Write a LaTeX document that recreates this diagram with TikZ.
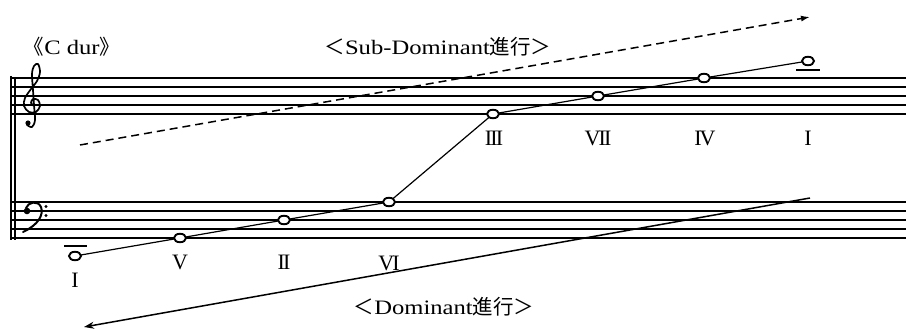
\documentclass[tikz,border=0pt]{standalone}
\usepackage{fontspec}
\setmainfont{Liberation Serif}
\newfontfamily\cjk{Noto Sans CJK JP}
\newfontfamily\wideserif[FakeStretch=1.2]{Liberation Serif}
\usetikzlibrary{arrows.meta,shapes.geometric}
\newcommand{\rmI}{I}
\newcommand{\rmII}{I\kern-1.8ptI}
\newcommand{\rmIII}{I\kern-1.8ptI\kern-1.8ptI}
\newcommand{\rmIV}{I\kern-2ptV}
\newcommand{\rmV}{V}
\newcommand{\rmVI}{V\kern-2ptI}
\newcommand{\rmVII}{V\kern-2ptI\kern-1.8ptI}
\begin{document}
\begin{tikzpicture}[x=1pt,y=-1pt,
  staffline/.style={line width=1.4pt},
  barline/.style={line width=1.3pt},
  ledger/.style={line width=1.4pt},
  clefstroke/.style={line width=1.7pt, line cap=round, line join=round},
  notehead/.style={draw, ellipse, line width=1.9pt, fill=white, minimum width=12pt, minimum height=8.5pt, inner sep=0pt},
  numeral/.style={font=\fontsize{22}{24}\selectfont, inner sep=0pt},
  heading/.style={font=\fontsize{20.5}{24}\selectfont, inner sep=0pt},
  melody/.style={line width=1.2pt},
  arrowline/.style={line width=1.5pt}]
\useasboundingbox (0,0) rectangle (906,329);
% staves
\foreach \y in {78,87,96,105,114} \draw[staffline] (12,\y) -- (906,\y);
\foreach \y in {202,211,220,229,238} \draw[staffline] (12,\y) -- (906,\y);
\draw[barline] (11,76) -- (11,240);
\draw[barline] (15,77) -- (15,240);
% treble clef (drawn)
\draw[clefstroke] plot[smooth, tension=0.55] coordinates {(34,106) (31,103) (33,99) (38,100) (40,106) (36,112) (29,112) (24,106) (25,98) (31,89) (37,81) (40,72) (38,64) (34,66) (32,74) (33,90) (34,105) (35,120) (32,127) (27,125)};
\fill (28,123) circle (2.6pt);
% bass clef (drawn)
\draw[clefstroke, line width=2pt] (26,208) .. controls (28,202) and (38,200) .. (41,207) .. controls (44,215) and (38,225) .. (23,232);
\fill (27,211) circle (3.3pt);
\fill (46,206.5) circle (1.6pt);
\fill (46,215.5) circle (1.6pt);
% ledger lines
\draw[ledger] (64,246) -- (87,246);
\draw[ledger] (796,70) -- (820,70);
% melody line
\coordinate (p1) at (75,256);
\coordinate (p2) at (180,238);
\coordinate (p3) at (284,220);
\coordinate (p4) at (389,202);
\coordinate (p5) at (493,114);
\coordinate (p6) at (598,96);
\coordinate (p7) at (704,78);
\coordinate (p8) at (808,61);
\draw[melody] (p1) -- (p2) -- (p3) -- (p4) -- (p5) -- (p6) -- (p7) -- (p8);
\foreach \i in {1,...,8} \node[notehead] (n\i) at (p\i) {};
% numerals
\node[numeral] (l1) at (75,280) {\rmI};
\node[numeral] (l2) at (180,262) {\rmV};
\node[numeral] (l3) at (284,262) {\rmII};
\node[numeral] (l4) at (389,263) {\rmVI};
\node[numeral] (l5) at (494,138) {\rmIII};
\node[numeral] (l6) at (598,138) {\rmVII};
\node[numeral] (l7) at (705,138) {\rmIV};
\node[numeral] (l8) at (808,138) {\rmI};
% headings
\node[heading] (cdur) at (72,47) {{\cjk 《}{\wideserif C dur}{\cjk 》}};
\node[heading] (subdom) at (438,47) {{\cjk ＜}{\wideserif Sub-Dominant}{\cjk 進行＞}};
\node[heading] (dom) at (444,307) {{\cjk ＜}{\wideserif Dominant}{\cjk 進行＞}};
% arrows
\coordinate (sdA) at (80,145);
\coordinate (sdB) at (810,17);
\draw[arrowline, dash pattern=on 8pt off 5pt, -{Latex[length=9pt,width=6pt]}] (sdA) -- (sdB);
\coordinate (dA) at (810,198);
\coordinate (dB) at (84,327);
\draw[arrowline, -{Stealth[length=10pt,width=7pt]}] (dA) -- (dB);
\end{tikzpicture}
\end{document}
